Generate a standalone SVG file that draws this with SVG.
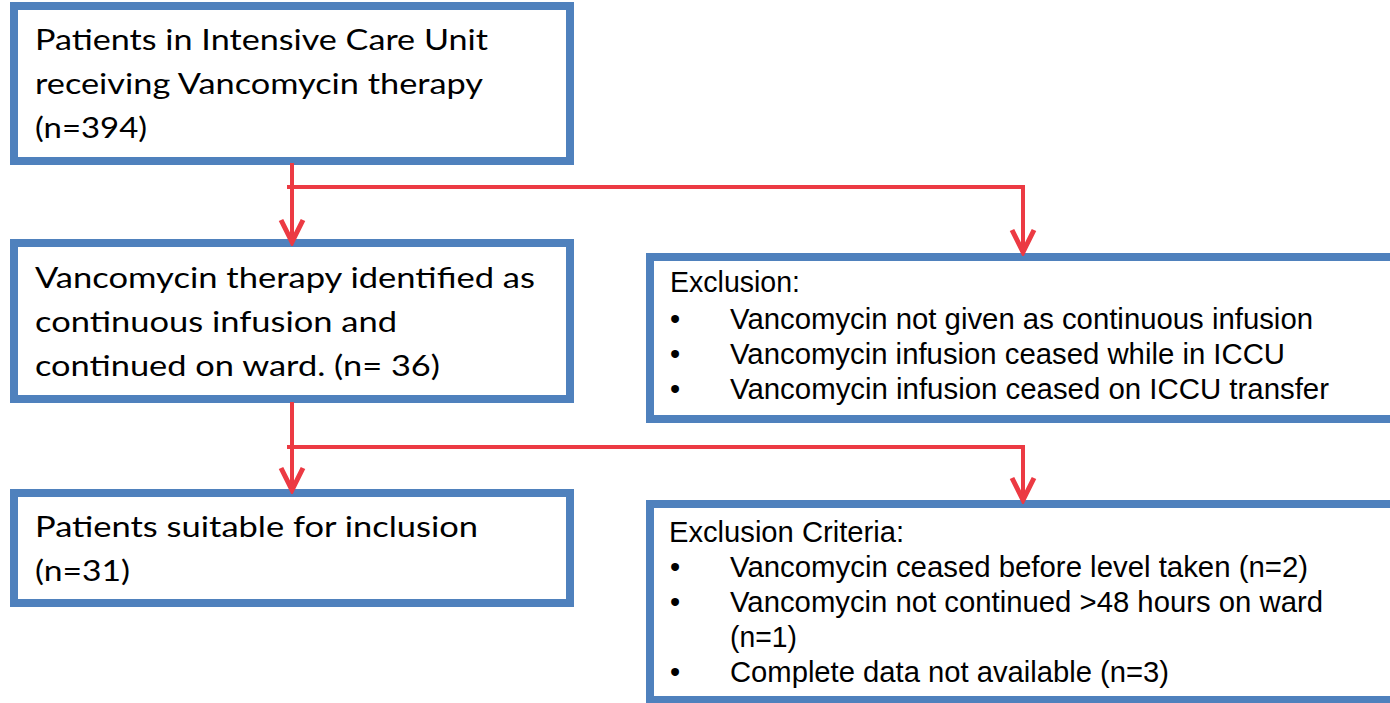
<svg xmlns="http://www.w3.org/2000/svg" width="1390" height="703" viewBox="0 0 1390 703">
<style>
.box{fill:#fff;stroke:#4F81BD;stroke-width:8}
.t{font-family:Lato,"Open Sans",sans-serif;font-size:29.5px;fill:#000}
.r{font-family:"Liberation Sans",Arial,sans-serif;font-size:29px;fill:#000}
.c{fill:none;stroke:#EC3A43;stroke-width:4}
</style>
<defs>
<marker id="ah" markerUnits="userSpaceOnUse" viewBox="-26 -14 30 28" refX="0" refY="0" markerWidth="30" markerHeight="28" orient="auto">
<path d="M-22,-11 L0,0 L-22,11" fill="none" stroke="#EC3A43" stroke-width="5" stroke-linejoin="miter"/>
</marker>
</defs>
<rect width="1390" height="703" fill="#fff"/>
<g id="n1">
<rect class="box" x="14" y="6" width="556" height="155"/>
<text class="t" x="35" y="50" textLength="453" lengthAdjust="spacingAndGlyphs">Patients in Intensive Care Unit</text>
<text class="t" x="35" y="94" textLength="448" lengthAdjust="spacingAndGlyphs">receiving Vancomycin therapy</text>
<text class="t" x="35" y="138" textLength="112" lengthAdjust="spacingAndGlyphs">(n=394)</text>
</g>
<g id="n2">
<rect class="box" x="14" y="243" width="556" height="156"/>
<text class="t" x="35" y="288" textLength="500" lengthAdjust="spacingAndGlyphs">Vancomycin therapy identified as</text>
<text class="t" x="35" y="332" textLength="362" lengthAdjust="spacingAndGlyphs">continuous infusion and</text>
<text class="t" x="35" y="376" textLength="405" lengthAdjust="spacingAndGlyphs">continued on ward. (n= 36)</text>
</g>
<g id="n3">
<rect class="box" x="14" y="493" width="556" height="110"/>
<text class="t" x="35" y="537" textLength="443" lengthAdjust="spacingAndGlyphs">Patients suitable for inclusion</text>
<text class="t" x="35" y="581" textLength="95" lengthAdjust="spacingAndGlyphs">(n=31)</text>
</g>
<g id="n4">
<rect class="box" x="650" y="257" width="800" height="162"/>
<text class="r" x="670" y="292" textLength="130" lengthAdjust="spacingAndGlyphs">Exclusion:</text>
<text class="r" x="670" y="329">•</text>
<text class="r" x="730" y="329" textLength="583" lengthAdjust="spacingAndGlyphs">Vancomycin not given as continuous infusion</text>
<text class="r" x="670" y="364">•</text>
<text class="r" x="730" y="364" textLength="555" lengthAdjust="spacingAndGlyphs">Vancomycin infusion ceased while in ICCU</text>
<text class="r" x="670" y="399">•</text>
<text class="r" x="730" y="399" textLength="599" lengthAdjust="spacingAndGlyphs">Vancomycin infusion ceased on ICCU transfer</text>
</g>
<g id="n5">
<rect class="box" x="650" y="504" width="800" height="196"/>
<text class="r" x="669" y="542" textLength="235" lengthAdjust="spacingAndGlyphs">Exclusion Criteria:</text>
<text class="r" x="670" y="577">•</text>
<text class="r" x="730" y="577" textLength="578" lengthAdjust="spacingAndGlyphs">Vancomycin ceased before level taken (n=2)</text>
<text class="r" x="670" y="612">•</text>
<text class="r" x="730" y="612" textLength="593" lengthAdjust="spacingAndGlyphs">Vancomycin not continued &gt;48 hours on ward</text>
<text class="r" x="730" y="647" textLength="67" lengthAdjust="spacingAndGlyphs">(n=1)</text>
<text class="r" x="670" y="682">•</text>
<text class="r" x="730" y="682" textLength="439" lengthAdjust="spacingAndGlyphs">Complete data not available (n=3)</text>
</g>
<g id="connectors">
<path class="c" d="M292,163 V242" marker-end="url(#ah)"/>
<path class="c" d="M287,187 H1023 V252" marker-end="url(#ah)"/>
<path class="c" d="M292,402 V490" marker-end="url(#ah)"/>
<path class="c" d="M287,447 H1023 V500" marker-end="url(#ah)"/>
</g>
</svg>
